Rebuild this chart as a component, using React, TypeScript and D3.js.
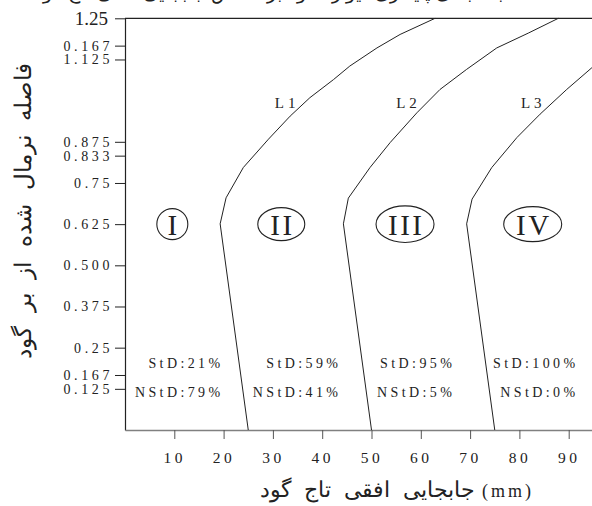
import React, { useRef, useEffect } from "react";
import * as d3 from "d3";

// axis ticks (the upper "0.167" really sits at ~1.167)
const xTicks = [10, 20, 30, 40, 50, 60, 70, 80, 90];
const yTickValues = [0.125, 0.167, 0.25, 0.375, 0.5, 0.625, 0.75, 0.833, 0.875, 1.125, 1.167, 1.25];
const yTickLabels = ["0.125", "0.167", "0.25", "0.375", "0.500", "0.625", "0.75", "0.833", "0.875", "1.125", "0.167", "1.25"];

// boundary lines [horizontal displacement mm, normalized distance]
const lineL1: [number, number][] = [
  [25, 0], [19.3, 0.626], [20.5, 0.705], [24.0, 0.797], [29.1, 0.883], [33.5, 0.953],
  [37.5, 1.009], [42.3, 1.064], [45.6, 1.105], [51.1, 1.16], [55.8, 1.201], [62.9, 1.25],
];
const lineL2: [number, number][] = [
  [50, 0], [44.3, 0.626], [45.3, 0.704], [49.7, 0.797], [53.8, 0.873], [59.2, 0.963],
  [63.9, 1.034], [69.3, 1.095], [75.4, 1.16], [81.8, 1.205], [87.9, 1.25],
];
const lineL3: [number, number][] = [
  [75, 0], [69.3, 0.626], [70.4, 0.701], [74.4, 0.797], [79.5, 0.888], [84.2, 0.959],
  [89.6, 1.034], [94.7, 1.1], [100.4, 1.16], [105.5, 1.205], [112, 1.25],
];
const lineNames = ["L1", "L2", "L3"];
const lineLabelX = [30.4, 55, 80.3];
const lineLabelY = 0.979;

const regionNames = ["I", "II", "III", "IV"];
const regionX = [9.6, 31.7, 56.8, 82.7];
const regionY = 0.625;

const stdValues = [21, 59, 95, 100];
const nstdValues = [79, 41, 5, 0];
const statRightX = [19.3, 43.2, 66.3, 91.3];
const stdY = 0.187;
const nstdY = 0.101;

const xTitle = "جابجایی افقی تاج گود";
const yTitle = "فاصله نرمال شده از بر گود";
const topTitle = "طبقه بندی پایداری دیواره گود بر اساس جابجایی افقی تاج گود";

const W = 592;
const H = 506;
const serif = "'Liberation Serif', 'Times New Roman', serif";
const persian = "'DejaVu Sans', sans-serif";
const ink = "#222";

export default function App() {
  const ref = useRef<SVGSVGElement>(null);

  useEffect(() => {
    if (!ref.current) return;
    const svg = d3.select(ref.current);
    svg.selectAll("*").remove();

    const x = d3.scaleLinear().domain([0, 100]).range([125, 618]);
    const y = d3.scaleLinear().domain([0, 1.25]).range([430, 18.3]);

    // top border
    svg.append("line")
      .attr("x1", x(0)).attr("x2", x(100))
      .attr("y1", y(1.25)).attr("y2", y(1.25))
      .attr("stroke", ink).attr("stroke-width", 1.2);

    // y axis
    const yAxis = svg.append("g")
      .attr("transform", `translate(${x(0)},0)`)
      .call(
        d3.axisLeft(y)
          .tickValues(yTickValues)
          .tickSize(10)
          .tickSizeOuter(0)
          .tickPadding(3)
          .tickFormat((_, i) => yTickLabels[i])
      );
    yAxis.select(".domain").attr("stroke", ink).attr("stroke-width", 1.2);
    yAxis.selectAll(".tick line").attr("stroke", ink);
    yAxis.selectAll<SVGTextElement, number>(".tick text")
      .attr("fill", ink)
      .style("font-family", serif)
      .style("font-size", (d) => (d === 1.25 ? "19px" : "14px"))
      .style("letter-spacing", (d) => (d === 1.25 ? "0px" : "3.6px"))
      .attr("x", (d) => (d === 1.25 ? -17 : -12));

    // x axis
    const xAxis = svg.append("g")
      .attr("transform", `translate(0,${y(0)})`)
      .call(
        d3.axisBottom(x)
          .tickValues(xTicks)
          .tickSize(9)
          .tickSizeOuter(0)
          .tickPadding(13)
      );
    xAxis.select(".domain").attr("stroke", "#808080").attr("stroke-width", 1.6);
    xAxis.selectAll(".tick line").attr("stroke", "#555");
    xAxis.selectAll(".tick text")
      .attr("fill", ink)
      .style("font-family", serif)
      .style("font-size", "15.5px")
      .style("letter-spacing", "3.5px");

    // boundary lines
    const line = d3.line<[number, number]>()
      .x((d) => x(d[0]))
      .y((d) => y(d[1]));
    [lineL1, lineL2, lineL3].forEach((pts) => {
      svg.append("path")
        .datum(pts)
        .attr("d", line)
        .attr("fill", "none")
        .attr("stroke", ink)
        .attr("stroke-width", 1);
    });

    svg.append("g").selectAll("text")
      .data(lineNames)
      .join("text")
      .attr("x", (_, i) => x(lineLabelX[i]))
      .attr("y", y(lineLabelY))
      .attr("fill", ink)
      .style("font-family", serif)
      .style("font-size", "15px")
      .style("letter-spacing", "4px")
      .text((d) => d);

    // region markers
    const radii = [[15.5, 15.5], [23.5, 16.5], [29, 18.3], [29, 17.5]];
    const regions = svg.append("g").selectAll("g")
      .data(regionNames)
      .join("g")
      .attr("transform", (_, i) => `translate(${x(regionX[i])},${y(regionY)})`);
    regions.append("ellipse")
      .attr("rx", (_, i) => radii[i][0])
      .attr("ry", (_, i) => radii[i][1])
      .attr("fill", "none")
      .attr("stroke", ink)
      .attr("stroke-width", 1.1);
    regions.append("text")
      .attr("text-anchor", "middle")
      .attr("x", 1.2)
      .attr("y", 10.5)
      .attr("fill", ink)
      .style("font-family", serif)
      .style("font-size", "29px")
      .style("letter-spacing", "2.5px")
      .text((d) => d);

    // StD / NStD percentages
    const stats = svg.append("g");
    stats.selectAll("text.std")
      .data(stdValues)
      .join("text")
      .attr("class", "std")
      .attr("x", (_, i) => x(statRightX[i]) + 3.4)
      .attr("y", y(stdY))
      .attr("text-anchor", "end")
      .attr("fill", ink)
      .style("font-family", serif)
      .style("font-size", "14px")
      .style("letter-spacing", "3.4px")
      .text((d) => `StD:${d}%`);
    stats.selectAll("text.nstd")
      .data(nstdValues)
      .join("text")
      .attr("class", "nstd")
      .attr("x", (_, i) => x(statRightX[i]) + 3.4)
      .attr("y", y(nstdY))
      .attr("text-anchor", "end")
      .attr("fill", ink)
      .style("font-family", serif)
      .style("font-size", "14px")
      .style("letter-spacing", "3.4px")
      .text((d) => `NStD:${d}%`);

    // titles
    svg.append("text")
      .attr("x", 475)
      .attr("y", 497)
      .attr("text-anchor", "end")
      .attr("fill", ink)
      .style("font-family", persian)
      .style("font-size", "22px")
      .style("font-weight", 200)
      .style("word-spacing", "6px")
      .text(xTitle);
    svg.append("text")
      .attr("x", 482)
      .attr("y", 497)
      .attr("fill", ink)
      .style("font-family", serif)
      .style("font-size", "18px")
      .style("letter-spacing", "3px")
      .text("(mm)");

    svg.append("text")
      .attr("transform", `translate(31,211) rotate(-90)`)
      .attr("text-anchor", "middle")
      .attr("fill", ink)
      .style("font-family", persian)
      .style("font-size", "23px")
      .style("font-weight", 200)
      .style("word-spacing", "7px")
      .text(yTitle);

    svg.append("text")
      .attr("x", 277)
      .attr("y", -1)
      .attr("text-anchor", "middle")
      .attr("fill", ink)
      .style("font-family", persian)
      .style("font-size", "19px")
      .style("font-weight", 200)
      .text(topTitle);
  }, []);

  return (
    <svg
      ref={ref}
      width={W}
      height={H}
      style={{ position: "absolute", left: 0, top: 0, background: "#fff" }}
    />
  );
}
